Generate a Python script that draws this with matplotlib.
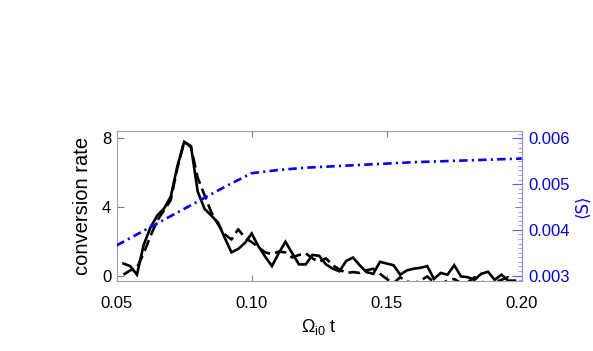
#!/usr/bin/env python3
import matplotlib
matplotlib.use("Agg")
import matplotlib.pyplot as plt
from matplotlib.ticker import MultipleLocator

plt.rcParams["font.family"] = ["Liberation Sans", "DejaVu Sans"]
plt.rcParams["mathtext.default"] = "regular"

# time axis for the conversion-rate curves
t = [0.0525, 0.0550, 0.0575, 0.0600, 0.0625, 0.0650, 0.0675, 0.0700, 0.0725, 0.0750,
     0.0775, 0.0800, 0.0825, 0.0850, 0.0875, 0.0900, 0.0925, 0.0950, 0.0975, 0.1000,
     0.1025, 0.1050, 0.1075, 0.1100, 0.1125, 0.1150, 0.1175, 0.1200, 0.1225, 0.1250,
     0.1275, 0.1300, 0.1325, 0.1350, 0.1375, 0.1400, 0.1425, 0.1450, 0.1475, 0.1500,
     0.1525, 0.1550, 0.1575, 0.1600, 0.1625, 0.1650, 0.1675, 0.1700, 0.1725, 0.1750,
     0.1775, 0.1800, 0.1825, 0.1850, 0.1875, 0.1900, 0.1925, 0.1950, 0.1975]

rate_solid = [0.70, 0.55, 0.05, 1.80, 2.80, 3.50, 3.90, 4.60, 6.40, 7.80,
              7.55, 4.90, 3.90, 3.50, 3.10, 2.20, 1.35, 1.55, 1.90, 2.45,
              1.70, 1.10, 0.55, 1.30, 1.97, 1.30, 0.65, 0.65, 1.20, 1.15,
              0.65, 0.40, 0.25, 0.85, 1.05, 0.60, 0.20, 0.10, 0.80, 0.70,
              0.60, 0.05, 0.30, 0.40, 0.45, 0.55, -0.20, 0.15, 0.05, 0.60,
              -0.05, -0.10, -0.25, 0.10, 0.22, -0.25, 0.05, -0.30, -0.30]

rate_dashed = [0.05, 0.30, 0.45, 1.30, 2.30, 3.20, 3.80, 4.40, 6.30, 7.80,
               7.50, 5.70, 4.70, 3.70, 3.00, 2.40, 2.10, 2.70, 2.20, 1.95,
               1.65, 1.35, 1.25, 1.40, 1.35, 1.05, 1.20, 1.30, 1.00, 0.80,
               1.00, 0.60, 0.35, 0.15, 0.20, 0.15, 0.30, 0.40, 0.10, -0.20,
               -0.45, -0.10, -0.35, -0.45, -0.30, -0.05, -0.40, -0.50, -0.30, -0.20,
               -0.45, -0.40, -0.10, -0.35, -0.50, -0.40, -0.25, -0.10, -0.40]

# mean S on the right axis
t_s = [0.05, 0.06, 0.07, 0.08, 0.09, 0.10, 0.11, 0.12, 0.13, 0.14,
       0.15, 0.16, 0.17, 0.18, 0.19, 0.20]
s_mean = [0.00366, 0.00398, 0.00430, 0.00462, 0.00494, 0.00524, 0.00531, 0.00536,
          0.00539, 0.00542, 0.00545, 0.00548, 0.00550, 0.00552, 0.00554, 0.00556]

fig = plt.figure(figsize=(5.93, 3.51), dpi=100)
ax = fig.add_axes([0.1968, 0.1994, 0.683, 0.4282])
ax2 = ax.twinx()

ax.plot(t, rate_solid, color="black", lw=1.9, solid_joinstyle="miter")
ax.plot(t, rate_dashed, color="black", lw=1.9, dashes=(4.4, 2.0))
ax2.plot(t_s, s_mean, color="#0000ff", lw=1.9, dashes=(3.2, 1.6, 0.8, 1.6))

ax.set_xlim(0.05, 0.20)
ax.set_ylim(-0.32, 8.45)
ax2.set_ylim(0.00288, 0.006169)

ax.set_xticks([0.05, 0.10, 0.15, 0.20])
ax.set_xticklabels(["0.05", "0.10", "0.15", "0.20"])
ax.set_yticks([0, 4, 8])
ax2.set_yticks([0.003, 0.004, 0.005, 0.006])
ax2.set_yticklabels(["0.003", "0.004", "0.005", "0.006"])
ax2.yaxis.set_minor_locator(MultipleLocator(0.0001))

for sp in ["left", "top", "bottom"]:
    ax.spines[sp].set_color("#a0a0a0")
    ax2.spines[sp].set_visible(False)
ax.spines["right"].set_visible(False)
ax2.spines["right"].set_color("#8c8cff")
for sp in ax.spines.values():
    sp.set_linewidth(0.8)
ax2.spines["right"].set_linewidth(0.8)

ax.tick_params(axis="x", direction="in", top=True, length=4, width=0.8,
               color="#808080", labelsize=12, pad=11)
ax.tick_params(axis="y", direction="in", right=True, length=5, width=0.8,
               color="#808080", labelsize=12, pad=4)
ax2.tick_params(axis="y", which="major", direction="in", length=7, width=0.8,
                color="#6060ff", labelcolor="#0000ff", labelsize=12, pad=5)
ax2.tick_params(axis="y", which="minor", direction="in", length=3, width=0.6,
                color="#8c8cff")

ax.set_xlabel(r"$\Omega_{i0}$ t", fontsize=13, labelpad=4)
ax.set_ylabel("conversion rate", fontsize=14.5, labelpad=7)
ax2.set_ylabel("⟨S⟩", fontsize=12, color="#0000ff", labelpad=2,
               family=["DejaVu Sans"])

fig.savefig("out.png", dpi=100)
